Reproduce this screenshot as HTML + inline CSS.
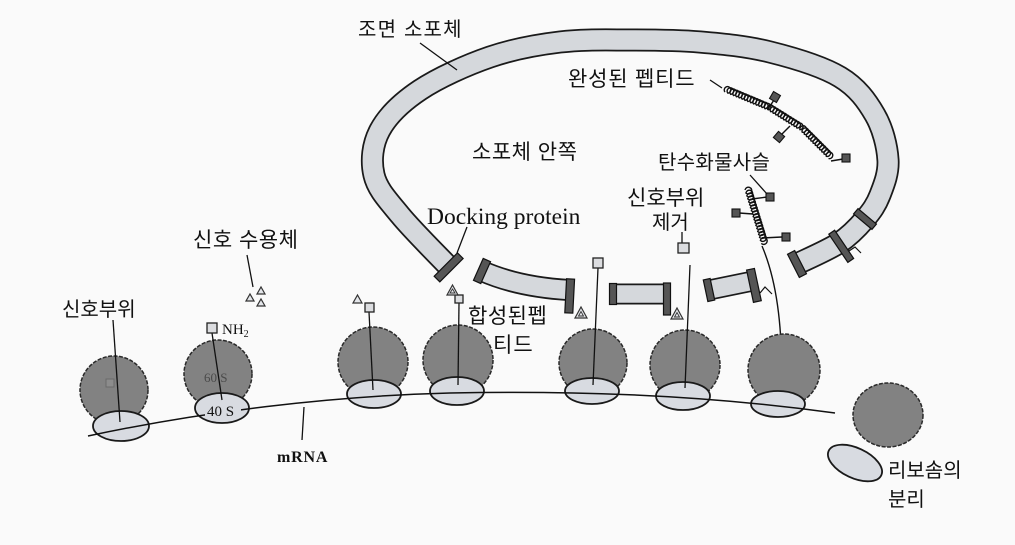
<!DOCTYPE html>
<html><head><meta charset="utf-8"><style>
html,body{margin:0;padding:0;background:#fafafa;}
svg{display:block;}
.k{font-family:"Liberation Sans","Noto Sans CJK KR",sans-serif;fill:#111;}
.s{font-family:"Liberation Serif",serif;fill:#111;}
</style></head><body>
<svg width="1015" height="545" viewBox="0 0 1015 545" xmlns="http://www.w3.org/2000/svg">
<rect width="1015" height="545" fill="#fafafa"/>

<!-- Vesicle (rough ER) -->
<path d="M449 267 C440.8 258.3 412.5 230.3 400 215 C387.5 199.7 377.3 189.2 374 175 C370.7 160.8 372.3 144.2 380 130 C387.7 115.8 401.7 102.2 420 90 C438.3 77.8 466.7 65 490 57 C513.3 49 536.7 44.8 560 42 C583.3 39.2 606.7 40 630 40 C653.3 40 676.7 40 700 42 C723.3 44 746.7 46.2 770 52 C793.3 57.8 822.5 66.5 840 77 C857.5 87.5 867 101.2 875 115 C883 128.8 887.2 146.7 888 160 C888.8 173.3 883.8 185.2 880 195 C876.2 204.8 871.8 211 865 219 C858.2 227 850.3 235.5 839 243 C827.3 250.5 804 260.5 797 264" fill="none" stroke="#1a1a1a" stroke-width="23"/>
<path d="M449 267 C440.8 258.3 412.5 230.3 400 215 C387.5 199.7 377.3 189.2 374 175 C370.7 160.8 372.3 144.2 380 130 C387.7 115.8 401.7 102.2 420 90 C438.3 77.8 466.7 65 490 57 C513.3 49 536.7 44.8 560 42 C583.3 39.2 606.7 40 630 40 C653.3 40 676.7 40 700 42 C723.3 44 746.7 46.2 770 52 C793.3 57.8 822.5 66.5 840 77 C857.5 87.5 867 101.2 875 115 C883 128.8 887.2 146.7 888 160 C888.8 173.3 883.8 185.2 880 195 C876.2 204.8 871.8 211 865 219 C858.2 227 850.3 235.5 839 243 C827.3 250.5 804 260.5 797 264" fill="none" stroke="#d5d8dc" stroke-width="19.5"/>
<!-- vesicle bars -->
<rect x="-4" y="-16" width="8" height="33" transform="translate(449,267) rotate(45)" fill="#555" stroke="#111" stroke-width="1.2"/>
<rect x="-4" y="-13" width="8" height="26" transform="translate(797,264) rotate(153)" fill="#555" stroke="#111" stroke-width="1.2"/>
<rect x="-3.5" y="-12" width="7" height="24" transform="translate(865,219) rotate(130)" fill="#555" stroke="#111" stroke-width="1.2"/>
<rect x="-3.5" y="-21" width="7" height="34" transform="translate(839,243) rotate(146)" fill="#555" stroke="#111" stroke-width="1.2"/>
<polyline points="849,251 855,247 861,253" fill="none" stroke="#111" stroke-width="1.2"/>

<!-- Segment A -->
<path d="M482 271 Q518 287 569 290" fill="none" stroke="#1a1a1a" stroke-width="22"/>
<path d="M482 271 Q518 287 569 290" fill="none" stroke="#d5d8dc" stroke-width="18.5"/>
<rect x="-4" y="-12" width="8" height="24" transform="translate(482,271) rotate(24)" fill="#555" stroke="#111" stroke-width="1.2"/>
<rect x="-4" y="-11" width="8" height="34" transform="translate(570,290) rotate(3)" fill="#555" stroke="#111" stroke-width="1.2"/>

<!-- Segment B -->
<path d="M613 294 L667 294" fill="none" stroke="#1a1a1a" stroke-width="21"/>
<path d="M613 294 L667 294" fill="none" stroke="#d5d8dc" stroke-width="17.5"/>
<rect x="-3.5" y="-10.5" width="7" height="21" transform="translate(613,294)" fill="#555" stroke="#111" stroke-width="1.2"/>
<rect x="-3.5" y="-11" width="7" height="32" transform="translate(667,294)" fill="#555" stroke="#111" stroke-width="1.2"/>

<!-- Segment C -->
<path d="M709 290 L753 281" fill="none" stroke="#1a1a1a" stroke-width="21"/>
<path d="M709 290 L753 281" fill="none" stroke="#d5d8dc" stroke-width="17.5"/>
<rect x="-3.5" y="-11" width="7" height="22" transform="translate(709,290) rotate(-12)" fill="#555" stroke="#111" stroke-width="1.2"/>
<rect x="-4" y="-12" width="8" height="33" transform="translate(753,281) rotate(-12)" fill="#555" stroke="#111" stroke-width="1.2"/>
<polyline points="760,293 765,287 772,294" fill="none" stroke="#111" stroke-width="1.2"/>

<!-- Triangles near segments -->
<polygon points="575,318 587,318 581,307" fill="#e4e6ea" stroke="#333" stroke-width="1.2"/>
<polygon points="578.5,316 583.5,316 581,311.5" fill="none" stroke="#333" stroke-width="0.9"/>
<polygon points="671,319 683,319 677,308" fill="#e4e6ea" stroke="#333" stroke-width="1.2"/>
<polygon points="674.5,317 679.5,317 677,312.5" fill="none" stroke="#333" stroke-width="0.9"/>

<!-- Mature peptide coil -->
<g fill="none" stroke="#111" stroke-width="1.4">
<path transform="translate(725,92) rotate(22.7)" d="M0 0 a3.3 3.3 0 1 1 3.1 0 a3.3 3.3 0 1 1 3.1 0 a3.3 3.3 0 1 1 3.1 0 a3.3 3.3 0 1 1 3.1 0 a3.3 3.3 0 1 1 3.1 0 a3.3 3.3 0 1 1 3.1 0 a3.3 3.3 0 1 1 3.1 0 a3.3 3.3 0 1 1 3.1 0 a3.3 3.3 0 1 1 3.1 0 a3.3 3.3 0 1 1 3.1 0 a3.3 3.3 0 1 1 3.1 0 a3.3 3.3 0 1 1 3.1 0 a3.3 3.3 0 1 1 3.1 0 a3.3 3.3 0 1 1 3.1 0 a3.3 3.3 0 1 1 3.1 0"/>
<path transform="translate(768,110) rotate(32)" d="M0 0 a3.3 3.3 0 1 1 3.1 0 a3.3 3.3 0 1 1 3.1 0 a3.3 3.3 0 1 1 3.1 0 a3.3 3.3 0 1 1 3.1 0 a3.3 3.3 0 1 1 3.1 0 a3.3 3.3 0 1 1 3.1 0 a3.3 3.3 0 1 1 3.1 0 a3.3 3.3 0 1 1 3.1 0 a3.3 3.3 0 1 1 3.1 0 a3.3 3.3 0 1 1 3.1 0 a3.3 3.3 0 1 1 3.1 0 a3.3 3.3 0 1 1 3.1 0"/>
<path transform="translate(800,130) rotate(45)" d="M0 0 a3.3 3.3 0 1 1 3.1 0 a3.3 3.3 0 1 1 3.1 0 a3.3 3.3 0 1 1 3.1 0 a3.3 3.3 0 1 1 3.1 0 a3.3 3.3 0 1 1 3.1 0 a3.3 3.3 0 1 1 3.1 0 a3.3 3.3 0 1 1 3.1 0 a3.3 3.3 0 1 1 3.1 0 a3.3 3.3 0 1 1 3.1 0 a3.3 3.3 0 1 1 3.1 0 a3.3 3.3 0 1 1 3.1 0 a3.3 3.3 0 1 1 3.1 0 a3.3 3.3 0 1 1 3.1 0"/>
<line x1="768" y1="109" x2="774" y2="100"/>
<line x1="790" y1="126" x2="781" y2="135"/>
<line x1="831" y1="161" x2="843" y2="159"/>
</g>
<rect x="-4" y="-4" width="8" height="8" transform="translate(775,97) rotate(30)" fill="#555" stroke="#111" stroke-width="1.1"/>
<rect x="-4" y="-4" width="8" height="8" transform="translate(779,137) rotate(40)" fill="#555" stroke="#111" stroke-width="1.1"/>
<rect x="-4" y="-4" width="8" height="8" transform="translate(846,158)" fill="#555" stroke="#111" stroke-width="1.1"/>

<!-- Glycosylated coil -->
<g fill="none" stroke="#111" stroke-width="1.4">
<path transform="translate(745,190) rotate(73)" d="M0 0 a3.4 3.4 0 1 1 3.1 0 a3.4 3.4 0 1 1 3.1 0 a3.4 3.4 0 1 1 3.1 0 a3.4 3.4 0 1 1 3.1 0 a3.4 3.4 0 1 1 3.1 0 a3.4 3.4 0 1 1 3.1 0 a3.4 3.4 0 1 1 3.1 0 a3.4 3.4 0 1 1 3.1 0 a3.4 3.4 0 1 1 3.1 0 a3.4 3.4 0 1 1 3.1 0 a3.4 3.4 0 1 1 3.1 0 a3.4 3.4 0 1 1 3.1 0 a3.4 3.4 0 1 1 3.1 0 a3.4 3.4 0 1 1 3.1 0 a3.4 3.4 0 1 1 3.1 0 a3.4 3.4 0 1 1 3.1 0 a3.4 3.4 0 1 1 3.1 0 a3.4 3.4 0 1 1 3.1 0"/>
<line x1="752" y1="199" x2="767" y2="197"/>
<line x1="739" y1="213" x2="753" y2="214"/>
<line x1="762" y1="238" x2="782" y2="237"/>
<path d="M762 246 Q785 300 781 397"/>
</g>
<rect x="766" y="193" width="8" height="8" fill="#555" stroke="#111" stroke-width="1.1"/>
<rect x="732" y="209" width="8" height="8" fill="#555" stroke="#111" stroke-width="1.1"/>
<rect x="782" y="233" width="8" height="8" fill="#555" stroke="#111" stroke-width="1.1"/>

<!-- Ribosomes: large subunits -->
<g fill="#828282" stroke="#2a2a2a" stroke-width="1.5" stroke-dasharray="4 1.5">
<circle cx="114" cy="390" r="34"/>
<circle cx="218" cy="374" r="34"/>
<circle cx="373" cy="362" r="35"/>
<circle cx="458" cy="360" r="35"/>
<circle cx="593" cy="363" r="34"/>
<circle cx="685" cy="365" r="35"/>
<circle cx="784" cy="370" r="36"/>
<ellipse cx="888" cy="415" rx="35" ry="32"/>
</g>
<rect x="106" y="379" width="8" height="8" fill="#8c8c8c" stroke="#6a6a6a" stroke-width="1"/>
<text class="s" x="204" y="382" font-size="13" style="fill:#4a4a4a">60 S</text>

<!-- small subunits -->
<g fill="#d8dbe1" stroke="#1a1a1a" stroke-width="1.8">
<ellipse cx="121" cy="426" rx="28" ry="15"/>
<ellipse cx="222" cy="408" rx="27" ry="15"/>
<ellipse cx="374" cy="394" rx="27" ry="14"/>
<ellipse cx="457" cy="391" rx="27" ry="14"/>
<ellipse cx="592" cy="391" rx="27" ry="13"/>
<ellipse cx="683" cy="396" rx="27" ry="14"/>
<ellipse cx="778" cy="404" rx="27" ry="13"/>
<ellipse cx="855" cy="463" rx="29" ry="15" transform="rotate(25 855 463)"/>
</g>

<!-- mRNA -->
<path d="M88 436 C200 412 330 396 450 393 C560 391 690 393 835 413" fill="none" stroke="#111" stroke-width="1.5"/>
<rect x="205" y="403" width="36" height="14" fill="#d8dbe1"/>
<text class="s" x="207" y="416" font-size="15">40 S</text>

<!-- peptide lines -->
<g stroke="#111" stroke-width="1.3" fill="none">
<line x1="113" y1="320" x2="120" y2="422"/>
<line x1="212" y1="333" x2="222" y2="400"/>
<line x1="369" y1="312" x2="373" y2="390"/>
<line x1="459" y1="303" x2="458" y2="385"/>
<line x1="598" y1="268" x2="593" y2="385"/>
<line x1="690" y1="265" x2="685" y2="388"/>
<line x1="682" y1="232" x2="682" y2="243"/>
<line x1="247" y1="255" x2="253" y2="287"/>
<line x1="467" y1="227" x2="457" y2="253"/>
<line x1="420" y1="43" x2="457" y2="70"/>
<line x1="710" y1="80" x2="722" y2="88"/>
<line x1="750" y1="175" x2="767" y2="194"/>
<line x1="304" y1="407" x2="302" y2="440"/>
</g>

<!-- signal squares -->
<g fill="#dcdde0" stroke="#222" stroke-width="1.3">
<rect x="207" y="323" width="10" height="10"/>
<rect x="365" y="303" width="9" height="9"/>
<rect x="455" y="295" width="8" height="8"/>
<rect x="593" y="258" width="10" height="10"/>
<rect x="678" y="243" width="11" height="10"/>
</g>

<!-- triangles -->
<g fill="#e4e6ea" stroke="#333" stroke-width="1.2">
<polygon points="246,301 254,301 250,294"/>
<polygon points="257,294 265,294 261,287"/>
<polygon points="257,306 265,306 261,299"/>
<polygon points="353,303 362,303 357.5,295"/>
<polygon points="447,295 458,295 452.5,285"/>
</g>
<polygon points="450,293 455,293 452.5,289" fill="none" stroke="#333" stroke-width="0.9"/>

<!-- Labels -->
<text class="k" x="358" y="36" font-size="20" letter-spacing="1.2">조면 소포체</text>
<text class="k" x="568" y="86" font-size="21" letter-spacing="0.8">완성된 펩티드</text>
<text class="k" x="472" y="159" font-size="21" letter-spacing="0.5">소포체 안쪽</text>
<text class="k" x="658" y="169" font-size="20" letter-spacing="0.3">탄수화물사슬</text>
<text class="k" x="627" y="205" font-size="21">신호부위</text>
<text class="k" x="652" y="229" font-size="20">제거</text>
<text class="s" x="427" y="224" font-size="23.5">Docking protein</text>
<text class="k" x="193" y="247" font-size="21" letter-spacing="0.5">신호 수용체</text>
<text class="k" x="62" y="316" font-size="20">신호부위</text>
<text class="s" x="222" y="334" font-size="15">NH<tspan font-size="10" dy="3">2</tspan></text>
<text class="k" x="468" y="323" font-size="21" letter-spacing="0.5">합성된펩</text>
<text class="k" x="493" y="352" font-size="21" letter-spacing="1">티드</text>
<text class="s" x="277" y="462" font-size="16" font-weight="bold" letter-spacing="0.8">mRNA</text>
<text class="k" x="888" y="477" font-size="20">리보솜의</text>
<text class="k" x="888" y="506" font-size="20">분리</text>
</svg>
</body></html>
